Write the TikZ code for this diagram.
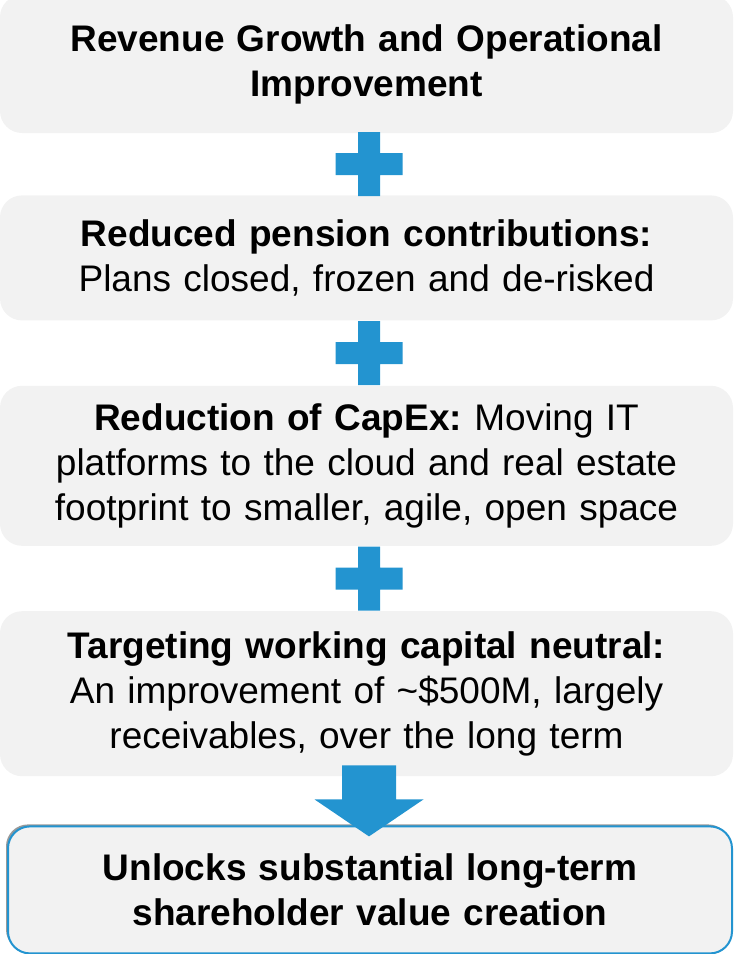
\documentclass[tikz,border=0pt]{standalone}
\usepackage{fontspec}
\setmainfont{Liberation Sans}
\frenchspacing
\usetikzlibrary{positioning,calc,shadows}
\definecolor{Panel}{HTML}{F2F2F2}
\definecolor{Accent}{HTML}{2394D0}
\tikzset{
  panel/.style={fill=Panel,rounded corners=22pt,minimum width=733pt,text width=713pt,inner sep=0pt,align=center,font=\fontsize{37}{45}\selectfont},
  result/.style={panel,draw=Accent,line width=2pt,minimum width=724pt,text width=700pt,general shadow={fill=black,opacity=.4,shadow xshift=-2pt,shadow yshift=2pt}},
  plusfill/.style={fill=Accent},
}

\begin{document}
\begin{tikzpicture}[node distance=64pt]
  \useasboundingbox (0,0) rectangle (734pt,-954pt);
  \node[panel,minimum height=138pt] (growth) at (366.5pt,-64pt) {\textbf{Revenue Growth and Operational}\\\textbf{Improvement}};
  \node[panel,minimum height=125pt,below=62pt of growth] (pension) {\textbf{Reduced pension contributions:}\\Plans closed, frozen and de-risked};
  \node[panel,minimum height=160pt,below=65pt of pension] (capex) {\textbf{Reduction of CapEx:} Moving IT\\platforms to the cloud and real estate\\footprint to smaller, agile, open space};
  \node[panel,minimum height=165pt,below=65pt of capex] (wcap) {\textbf{Targeting working capital neutral:}\\An improvement of \textasciitilde\$500M, largely\\receivables, over the long term};
  \node[result,minimum height=127pt,below=49pt of wcap,xshift=3.5pt] (value) {\textbf{Unlocks substantial long-term}\\\textbf{shareholder value creation}};
  % plus signs in the gaps
  \coordinate (p1) at ($(growth.south)!.5!(pension.north)+(2.5pt,0)$);
  \coordinate (p2) at ($(pension.south)!.5!(capex.north)+(2.5pt,0)$);
  \coordinate (p3) at ($(capex.south)!.5!(wcap.north)+(2.5pt,0)$);
  \foreach \p in {p1,p2,p3}
    \fill[plusfill,shift={(\p)}] (-11pt,-32pt) rectangle (11pt,32pt) (-33.5pt,-11pt) rectangle (33.5pt,11pt);
  % block arrow into the result
  \coordinate (flow) at ($(wcap.south)+(2.5pt,0)$);
  \fill[plusfill,shift={(flow)}] (-27pt,11pt) -- (27pt,11pt) -- (27pt,-23pt) -- (54.5pt,-23pt)
    -- (0,-60pt) -- (-54.5pt,-23pt) -- (-27pt,-23pt) -- cycle;
\end{tikzpicture}
\end{document}
